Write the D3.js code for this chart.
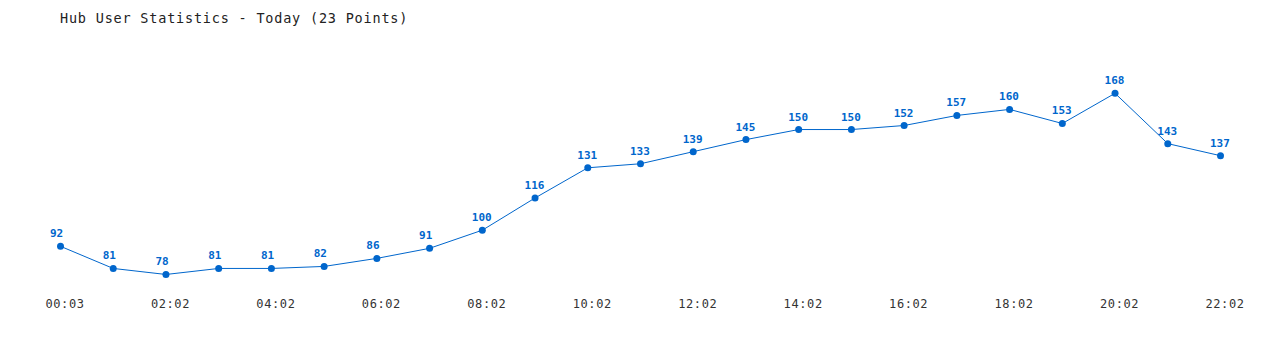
<!DOCTYPE html>
<html>
<head>
<meta charset="utf-8">
<script src="https://cdn.jsdelivr.net/npm/d3@7"></script>
<style>
  body { margin: 0; background: #fff; }
  svg { display: block; }
</style>
</head>
<body>
<svg id="chart"></svg>
<script>
// Data
const times = ["00:03", "01:02", "02:02", "03:02", "04:02", "05:02", "06:02", "07:02",
  "08:02", "09:02", "10:02", "11:02", "12:02", "13:02", "14:02", "15:02", "16:02",
  "17:02", "18:02", "19:02", "20:02", "21:02", "22:02"];
const users = [92, 81, 78, 81, 81, 82, 86, 91, 100, 116, 131, 133, 139, 145, 150, 150,
  152, 157, 160, 153, 168, 143, 137];
const tickLabels = times.filter((_, i) => i % 2 === 0);

const width = 1280, height = 350;
const blue = "#0066cc";
const mono = "'DejaVu Sans Mono', 'Liberation Mono', monospace";

const svg = d3.select("#chart").attr("width", width).attr("height", height);

// Title
svg.append("text")
  .attr("x", 60)
  .attr("y", 23)
  .style("font-family", mono)
  .style("font-size", "13.5px")
  .style("letter-spacing", "0.8px")
  .style("fill", "#222")
  .text("Hub User Statistics - Today (23 Points)");

// Scales
const x = d3.scalePoint().domain(times).range([60.5, 1220.5]);
const y = d3.scaleLinear().domain([92, 168]).range([246.3, 93.3]);

// X axis labels (every other point)
const xAxis = svg.append("g")
  .attr("transform", "translate(4,307.5)")
  .call(d3.axisBottom(x).tickValues(tickLabels).tickSize(0).tickPadding(0));
xAxis.select(".domain").remove();
xAxis.selectAll("text")
  .attr("dy", null)
  .attr("y", 0)
  .style("font-family", mono)
  .style("font-size", "12px")
  .style("letter-spacing", "0.6px")
  .style("fill", "#333");

const pts = times.map((t, i) => ({ t, v: users[i] }));

// Line
const line = d3.line().x(d => x(d.t)).y(d => y(d.v));
svg.append("path")
  .datum(pts)
  .attr("fill", "none")
  .attr("stroke", blue)
  .attr("stroke-width", 1)
  .attr("d", line);

// Points
svg.selectAll(".pt")
  .data(pts)
  .enter()
  .append("circle")
  .attr("class", "pt")
  .attr("cx", d => x(d.t))
  .attr("cy", d => y(d.v))
  .attr("r", 3.5)
  .attr("fill", blue);

// Value labels, left-aligned just left of each point
svg.selectAll(".val")
  .data(pts)
  .enter()
  .append("text")
  .attr("class", "val")
  .attr("x", d => x(d.t) - 10.5)
  .attr("y", d => y(d.v) - 9)
  .style("font-family", mono)
  .style("font-size", "11px")
  .style("font-weight", "bold")
  .style("fill", blue)
  .text(d => d.v);
</script>
</body>
</html>
